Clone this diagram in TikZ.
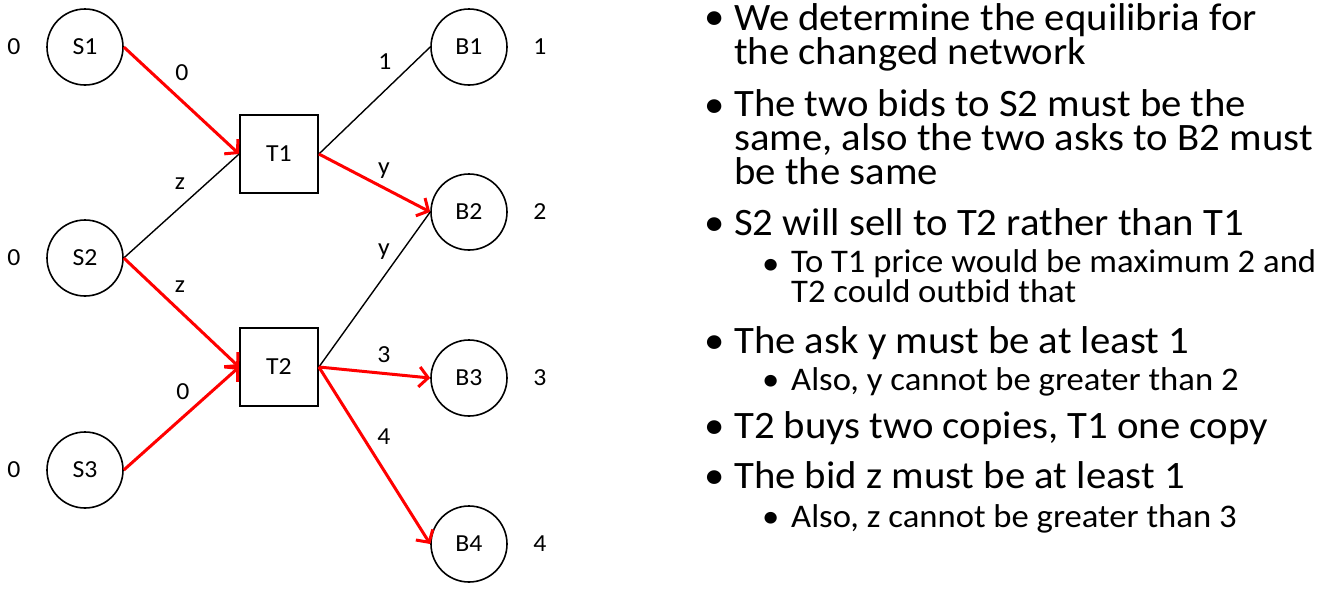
\documentclass[tikz,border=0pt]{standalone}
\usepackage{fontspec}
\setmainfont{Carlito}
\newfontfamily\slidefont[FakeStretch=1.05]{Carlito}
\usetikzlibrary{arrows.meta}
\tikzset{agent/.style = {draw, circle, line width=1.6pt, minimum size=76pt,
                         inner sep=0, font=\slidefont\fontsize{24.5}{28}\selectfont}}
\tikzset{trader/.style = {draw, rectangle, line width=1.8pt, minimum size=78pt,
                          inner sep=0, font=\slidefont\fontsize{24.5}{28}\selectfont}}
\tikzset{trade/.style = {draw=red, line width=3pt,
                         -{Straight Barb[length=9pt, width=20pt]}}}
\tikzset{link/.style = {draw, line width=1.4pt}}
\tikzset{lbl/.style = {inner sep=0, font=\slidefont\fontsize{24.5}{28}\selectfont}}
\tikzset{big/.style = {anchor=base west, inner sep=0, align=left,
                       font=\slidefont\fontsize{38.8}{34}\selectfont}}
\tikzset{small/.style = {anchor=base west, inner sep=0, align=left,
                         font=\slidefont\fontsize{33}{28}\selectfont}}

\begin{document}
\begin{tikzpicture}[x=1pt, y=-1pt]
      \useasboundingbox (0, 0) rectangle (1329, 592);
      % sellers, traders, buyers
      \node [agent] (S1) at (85, 47) {S1};
      \node [agent] (S2) at (85, 258) {S2};
      \node [agent] (S3) at (85, 470) {S3};
      \node [trader] (T1) at (279, 154) {T1};
      \node [trader] (T2) at (279, 367) {T2};
      \node [agent] (B1) at (469, 47) {B1};
      \node [agent] (B2) at (469, 212) {B2};
      \node [agent] (B3) at (469, 378) {B3};
      \node [agent] (B4) at (469, 544) {B4};
      % values
      \node [lbl] (vS1) at (14, 47) {0};
      \node [lbl] (vS2) at (14, 258) {0};
      \node [lbl] (vS3) at (14, 470) {0};
      \node [lbl] (vB1) at (540, 47) {1};
      \node [lbl] (vB2) at (540, 212) {2};
      \node [lbl] (vB3) at (540, 378) {3};
      \node [lbl] (vB4) at (540, 544) {4};
      % edges
      \draw [trade] (S1.east) -- (T1.west);
      \draw [link] (S2.east) -- (T1.west);
      \draw [trade] (S2.east) -- (T2.west);
      \draw [trade] (S3.east) -- (T2.west);
      \draw [link] (T1.east) -- (B1.west);
      \draw [trade] (T1.east) -- (B2.west);
      \draw [link] (T2.east) -- (B2.west);
      \draw [trade] (T2.east) -- (B3.west);
      \draw [trade] (T2.east) -- (B4.west);
      % prices
      \node [lbl] (p1) at (182, 73) {0};
      \node [lbl] (p2) at (180, 184) {z};
      \node [lbl] (p3) at (180, 287) {z};
      \node [lbl] (p4) at (183, 392) {0};
      \node [lbl] (p5) at (385, 62) {1};
      \node [lbl] (p6) at (384, 171) {y};
      \node [lbl] (p7) at (384, 252) {y};
      \node [lbl] (p8) at (384, 355) {3};
      \node [lbl] (p9) at (384, 437) {4};
      % bullets (multi-line nodes sit on their last baseline)
      \node [big] (d1) at (704, 29) {•};
      \node [big] (t1) at (734, 64) {We determine the equilibria for\\the changed network};
      \node [big] (d2) at (704, 117) {•};
      \node [big] (t2) at (734, 184) {The two bids to S2 must be the\\same, also the two asks to B2 must\\be the same};
      \node [big] (d3) at (704, 235) {•};
      \node [big] (t3) at (734, 235) {S2 will sell to T2 rather than T1};
      \node [small] (d3s) at (762, 274) {•};
      \node [small] (t3s) at (791, 302) {To T1 price would be maximum 2 and\\T2 could outbid that};
      \node [big] (d4) at (704, 353) {•};
      \node [big] (t4) at (734, 353) {The ask y must be at least 1};
      \node [small] (d4s) at (762, 390) {•};
      \node [small] (t4s) at (791, 390) {Also, y cannot be greater than 2};
      \node [big] (d5) at (704, 438) {•};
      \node [big] (t5) at (734, 438) {T2 buys two copies, T1 one copy};
      \node [big] (d6) at (704, 488) {•};
      \node [big] (t6) at (734, 488) {The bid z must be at least 1};
      \node [small] (d6s) at (762, 527) {•};
      \node [small] (t6s) at (791, 527) {Also, z cannot be greater than 3};
    \end{tikzpicture}
\end{document}
